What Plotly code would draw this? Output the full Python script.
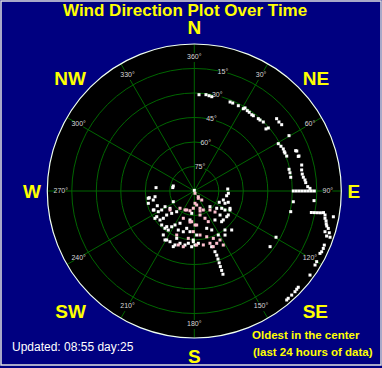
import plotly.graph_objects as go

# ---------------- data ----------------
compass_vals = [0, 45, 90, 135, 180, 225, 270, 315]
compass_text = ["N", "NE", "E", "SE", "S", "SW", "W", "NW"]

angle_tick_vals = [0, 30, 60, 90, 120, 150, 180, 210, 240, 270, 300, 330]
angle_tick_text = ["360°", "30°", "60°", "90°", "120°", "150°", "180°", "210°", "240°", "270°", "300°", "330°"]

ring_vals = [20, 16, 12, 8, 4]
ring_text = ["15°", "30°", "45°", "60°", "75°"]

# recent readings (outer part of the plot), direction in degrees, hours since start of window
outer_theta = [2.8, 6.9, 8.8, 10.5, 21.9, 23.6, 27.3, 30.8, 31.4, 33.4, 34.9, 37, 38.1, 41.5, 42.8, 45, 49.6, 49.1,
               60.6, 62.7, 64.7, 66.4, 67.3, 69.3, 77.1, 79.2, 81.9,
               90, 90, 90, 90, 90, 90, 90, 90,
               96.2, 102.1, 119.5, 126.3,
               48.7, 50.8, 52.8, 59.7, 68.3, 68.7, 71.5, 71.6, 76.4, 78.9, 81.1, 82.8, 84.3, 85.7, 87.8, 88.7,
               94.6,
               100.4, 100.2, 100, 99.8, 99.5,
               100.4, 101.8, 102.8, 104, 104.8, 105.6, 107.3, 107.2, 108.8, 108.8, 100.5, 112.6, 114, 115.5,
               116.4, 120, 121.5, 126, 132.8, 133.8, 135, 136.9, 138.8, 139.7]
outer_hours = [15.74, 15.84, 15.74, 15.66, 15.66, 15.67, 15.67, 15.64, 15.89, 15.71, 15.67, 15.59, 15.62, 15.77, 15.79, 15.93, 15.87, 15.48,
               15.74, 15.92, 16.07, 16.03, 16.05, 16.13, 15.87, 15.9, 15.9,
               16.16, 16.65, 17.14, 17.63, 18.12, 18.61, 19.1, 19.59,
               16.26, 16.1, 15.33, 15.35,
               17.89, 17.83, 17.91, 17.91, 17.81, 17.96, 18.02, 17.89, 18.04, 17.86, 17.84, 17.94, 18.16, 18.24, 18.53, 18.89,
               19.61,
               19.43, 19.92, 20.41, 20.9, 21.39,
               21.7, 21.8, 22.06, 22.2, 22.37, 22.71, 22.35, 23.07, 22.82, 23.41, 23.09, 22.99, 23.05, 23.04,
               22.91, 23.07, 23.12, 23.35, 23.13, 23.17, 23.25, 23.27, 23.28, 23.33]

# middle-aged readings (white dots near the centre)
mid_theta = [0, 275, 279, 261.5, 261.7, 257.6, 255, 248.3, 244.8, 240.1, 239.8, 241.8, 234.5, 243, 235.6, 229.8,
             228.6, 229, 225.4, 220.4, 223.8, 218.2, 213.7, 212.3, 209.6, 203.9, 202.3, 195.1, 191.5, 186, 215.2,
             200.4, 195.3, 189.8, 186.5, 182.7, 179.3, 175.6, 200.7, 209.4, 205.6, 181.2, 176.9, 261, 245.1, 235.2,
             217.7, 210.9, 199.7, 86.6, 98.3, 107.2, 108.4, 114.3, 127.7, 122.3, 121.8, 115.9, 133, 128.4, 138.3,
             135, 144.5, 136.2, 141.8, 145.1, 151.4, 155.9, 161.6, 186.6, 188.4, 181.1, 161.2, 160.7, 160.8, 160.9,
             161, 161, 161, 162.7, 93.9, 111.8, 118, 125.2, 135, 283.4]
mid_hours = [0.1, 6.27, 3.56, 7.43, 6.48, 6.86, 7.77, 6.50, 7.28, 6.78, 6.16, 5.42, 4.87, 3.85, 7.43, 7.33,
             6.74, 5.98, 5.19, 4.44, 7.69, 7.74, 7.66, 6.91, 6.38, 5.76, 6.89, 6.89, 6.22, 6.68, 8.78,
             8.24, 8.85, 8.95, 8.59, 9.11, 8.82, 8.57, 9.71, 9.18, 9.18, 8.0, 7.2, 7.61, 7.38, 7.82,
             7.36, 9.32, 9.36, 5.47, 5.34, 4.96, 5.84, 4.47, 4.62, 5.29, 5.89, 6.48, 5.75, 6.76, 6.71,
             3.62, 5.81, 8.82, 8.10, 8.77, 8.18, 6.97, 6.42, 3.67, 4.78, 8.28, 10.47, 11.1, 11.76, 12.41,
             13.06, 13.71, 14.37, 9.53, 5.57, 5.40, 6.60, 6.79, 6.69, 3.53]

# oldest readings (pink dots)
old_theta = [163, 145, 140.6, 170.3, 161.8, 154.7, 183.3, 166.6, 158.6, 155.5, 176, 181.4, 172.6, 164.8, 158.1,
             152.3, 151.8, 156.8, 163.3, 170.5, 177.5, 161.2, 219.6, 192.3, 201.9, 184.8, 176.7, 151.3, 187.2,
             196.5, 191.2, 232, 206, 140.4, 135.4, 201.8, 164, 201.8, 178.8, 187.9]
old_hours = [0.39, 1.14, 1.91, 2.32, 2.97, 3.43, 2.82, 4.03, 4.78, 5.50, 5.57, 6.64, 7.25, 7.74, 8.33,
             9.03, 10.01, 9.29, 8.91, 8.93, 8.83, 9.6, 3.66, 3.3, 4.8, 5.03, 2.01, 1.36, 7.79,
             9.19, 9.27, 5.03, 3.44, 4.02, 4.82, 3.34, 3.4, 7.74, 5.55, 5.11]

# ---------------- figure ----------------
W, H = 382, 368
NAVY = "#000080"
GREEN = "#006600"
DOM_X = [47.3 / W, 341.3 / W]
DOM_Y = [1 - 338.0 / H, 1 - 44.0 / H]

fig = go.Figure()

label_font = dict(family="Liberation Sans", size=7, color="#d8d8d8")

# masks behind the small labels (hide grid lines under them)
fig.add_trace(go.Scatterpolar(r=[21.8] * len(angle_tick_vals), theta=angle_tick_vals, mode="markers",
                              marker=dict(symbol="square", size=9, color="black"),
                              hoverinfo="skip", subplot="polar"))
fig.add_trace(go.Scatterpolar(r=ring_vals, theta=[13.5] * len(ring_vals), mode="markers",
                              marker=dict(symbol="square", size=9, color="black"),
                              hoverinfo="skip", subplot="polar"))
fig.add_trace(go.Scatterpolar(r=[21.8] * len(angle_tick_vals), theta=angle_tick_vals, mode="text",
                              text=angle_tick_text, textfont=label_font, textposition="middle center",
                              hoverinfo="skip", subplot="polar"))
fig.add_trace(go.Scatterpolar(r=ring_vals, theta=[13.5] * len(ring_vals), mode="text",
                              text=ring_text, textfont=label_font, textposition="middle center",
                              hoverinfo="skip", subplot="polar"))

dot = dict(symbol="square", size=3, line=dict(width=0))
fig.add_trace(go.Scatterpolar(r=outer_hours, theta=outer_theta, mode="markers",
                              marker=dict(color="white", **dot), subplot="polar"))
fig.add_trace(go.Scatterpolar(r=mid_hours, theta=mid_theta, mode="markers",
                              marker=dict(color="white", **dot), subplot="polar"))
fig.add_trace(go.Scatterpolar(r=old_hours, theta=old_theta, mode="markers",
                              marker=dict(color="#ffc0d0", **dot), subplot="polar"))

# placeholder trace so that the compass subplot is drawn
fig.add_trace(go.Scatterpolar(r=[0], theta=[0], mode="markers", marker=dict(size=1, opacity=0),
                              hoverinfo="skip", subplot="polar2"))

fig.update_layout(
    width=W, height=H,
    margin=dict(l=0, r=0, t=0, b=0),
    paper_bgcolor=NAVY,
    showlegend=False,
    polar=dict(
        domain=dict(x=DOM_X, y=DOM_Y),
        bgcolor="black",
        angularaxis=dict(rotation=90, direction="clockwise", tickmode="array", tickvals=angle_tick_vals,
                         showticklabels=False, ticks="", gridcolor=GREEN, gridwidth=1,
                         showline=True, linecolor="#f0fff0", linewidth=1.2),
        radialaxis=dict(range=[0, 24], tickmode="array", tickvals=ring_vals, showticklabels=False,
                        ticks="", gridcolor=GREEN, gridwidth=1, showline=False),
    ),
    polar2=dict(
        domain=dict(x=DOM_X, y=DOM_Y),
        bgcolor="rgba(0,0,0,0)",
        angularaxis=dict(rotation=90, direction="clockwise", tickmode="array", tickvals=compass_vals,
                         ticktext=compass_text,
                         tickfont=dict(family="Liberation Sans", size=19, color="#ffff00", weight="bold"),
                         showgrid=False, showline=False, ticks="outside", ticklen=2,
                         tickcolor="rgba(0,0,0,0)"),
        radialaxis=dict(visible=False, range=[0, 24]),
    ),
    shapes=[dict(type="rect", xref="paper", yref="paper", x0=1 / W, x1=381 / W, y0=1 - 365 / H, y1=1 - 1 / H,
                 line=dict(color="#e0e0e0", width=1.5), fillcolor="rgba(0,0,0,0)")],
    annotations=[
        dict(text="Wind Direction Plot Over Time", x=185 / W, y=1 - 10 / H, xref="paper", yref="paper",
             xanchor="center", yanchor="middle", showarrow=False,
             font=dict(family="Liberation Sans", size=17, color="#ffff00", weight="bold")),
        dict(text="Updated: 08:55 day:25", x=10 / W, y=1 - 347 / H, xref="paper", yref="paper",
             xanchor="left", yanchor="middle", showarrow=False,
             font=dict(family="Liberation Sans", size=12, color="white")),
        dict(text="Oldest in the center", x=250 / W, y=1 - 335 / H,
             xref="paper", yref="paper", xanchor="left", yanchor="middle", align="left", showarrow=False,
             font=dict(family="Liberation Sans", size=11.5, color="#ffff00", weight="bold")),
        dict(text="(last 24 hours of data)", x=251 / W, y=1 - 352 / H,
             xref="paper", yref="paper", xanchor="left", yanchor="middle", align="left", showarrow=False,
             font=dict(family="Liberation Sans", size=11.5, color="#ffff00", weight="bold")),
    ],
)

fig.write_html("out.html")
